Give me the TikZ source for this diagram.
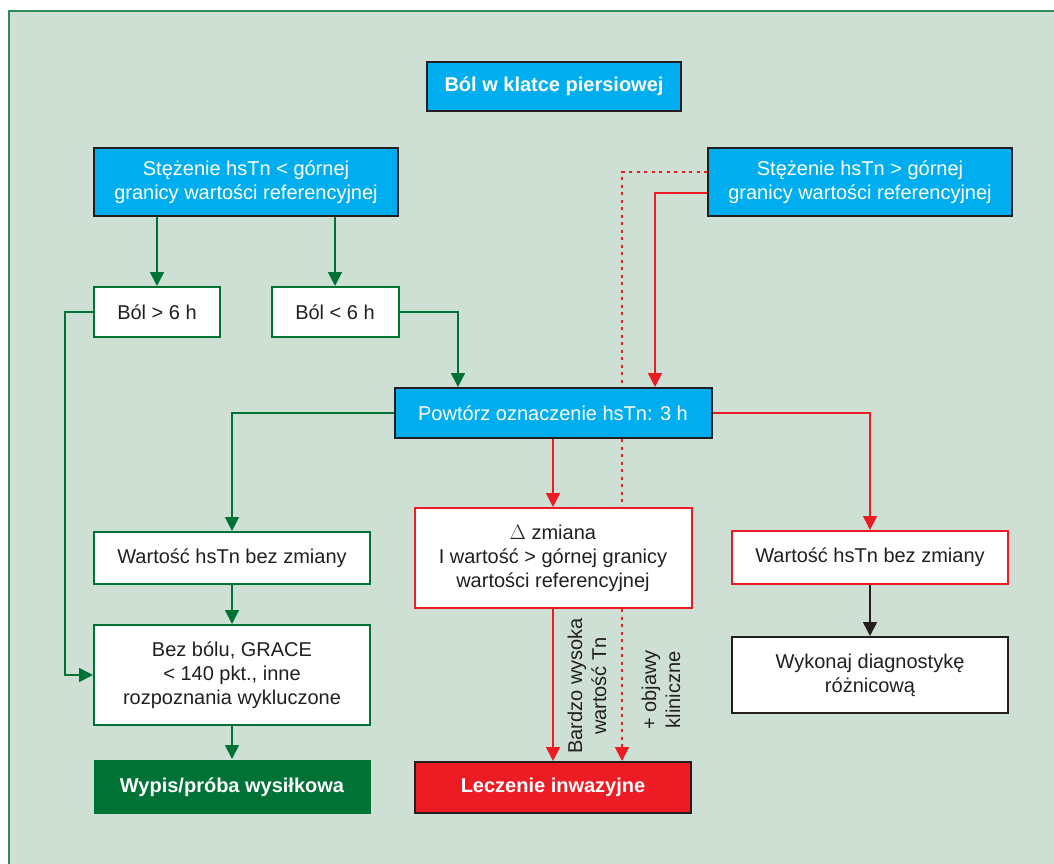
\documentclass[tikz,border=0pt]{standalone}
\usepackage{fontspec}
\setmainfont{Liberation Sans}
\usetikzlibrary{arrows.meta}
\definecolor{panelbg}{RGB}{206,223,212}
\definecolor{panelrule}{RGB}{46,139,87}
\definecolor{cyanbox}{RGB}{0,174,239}
\definecolor{leafgreen}{RGB}{0,114,54}
\definecolor{alarmred}{RGB}{237,28,36}
\definecolor{inkgrey}{RGB}{35,31,32}

\begin{document}
\begin{tikzpicture}[x=1pt, y=-1pt,
	font=\fontsize{20}{24}\selectfont,
	box/.style={draw, rectangle, align=center, inner sep=0pt, text=inkgrey, fill=white, line width=2pt},
	bluebox/.style={box, fill=cyanbox, draw=inkgrey, text=white},
	greenbox/.style={box, draw=leafgreen},
	redbox/.style={box, draw=alarmred},
	blackbox/.style={box, draw=inkgrey},
	endbox/.style={box, text=white, font=\fontsize{20}{24}\selectfont\bfseries},
	headed/.style={-{Triangle[width=14pt,length=14pt]}},
	gline/.style={headed, leafgreen, line width=1.6pt},
	rline/.style={headed, alarmred, line width=1.6pt},
	kline/.style={headed, inkgrey, line width=1.6pt},
	rdots/.style={alarmred, line width=2pt, dash pattern=on 3pt off 4.5pt},
]

\useasboundingbox (0,0) rectangle (1054,864);
\fill[white] (0,0) rectangle (1054,864);
\fill[panelbg] (9,11) rectangle (1054,864);
\draw[panelrule, line width=1.5pt] (9,864) -- (9,11) -- (1054,11);

\node[bluebox, font=\fontsize{20}{24}\selectfont\bfseries, minimum width=254pt, minimum height=49pt] (chest) at (554,86.5) {Ból w klatce piersiowej};

\node[bluebox, minimum width=304pt, minimum height=68pt] (hsLow) at (246,182) {Stężenie hsTn < górnej\\granicy wartości referencyjnej};
\node[bluebox, minimum width=304pt, minimum height=68pt] (hsHigh) at (860,182) {Stężenie hsTn > górnej\\granicy wartości referencyjnej};

\node[greenbox, minimum width=126pt, minimum height=50pt] (painLong) at (157,312) {Ból > 6 h};
\node[greenbox, minimum width=127pt, minimum height=50pt] (painShort) at (335,312) {Ból < 6 h};

\node[bluebox, minimum width=317pt, minimum height=50pt] (repeat) at (553,413) {Powtórz oznaczenie hsTn: 3 h};

\node[greenbox, minimum width=276pt, minimum height=52pt] (stableL) at (232,558) {Wartość hsTn bez zmiany};
\node[redbox, minimum width=277pt, minimum height=100pt] (delta) at (553,558) {$\Delta$ zmiana\\I wartość > górnej granicy\\wartości referencyjnej};
\node[redbox, minimum width=276pt, minimum height=53pt] (stableR) at (870,557.5) {Wartość hsTn bez zmiany};

\node[greenbox, minimum width=276pt, minimum height=100pt] (noPain) at (232,675) {Bez bólu, GRACE\\< 140 pkt., inne\\rozpoznania wykluczone};
\node[blackbox, minimum width=276pt, minimum height=76pt] (diffDiag) at (870,675) {Wykonaj diagnostykę\\różnicową};

\node[endbox, fill=leafgreen, draw=none, minimum width=277pt, minimum height=54pt] (discharge) at (232,787) {Wypis/próba wysiłkowa};
\node[endbox, fill=alarmred, draw=inkgrey, minimum width=276pt, minimum height=51pt] (invasive) at (553,787.5) {Leczenie inwazyjne};

\draw[gline] (hsLow.south -| painLong) -- (painLong);
\draw[gline] (hsLow.south -| painShort) -- (painShort);
\draw[gline] (painLong.west) -- ++(-28pt,0) |- (noPain.west);
\draw[gline] (painShort.east) -| ([xshift=-95pt]repeat.north);

\draw[rline] ([yshift=-11pt]hsHigh.west) -| ([xshift=102pt]repeat.north);
\draw[rdots] ([yshift=10pt]hsHigh.west) -| ([xshift=69pt]repeat.north);
\draw[rdots] ([xshift=69pt]repeat.south) -- ([xshift=69pt]delta.north);
\draw[rdots, headed] ([xshift=69pt]delta.south) -- ([xshift=69pt]invasive.north);

\draw[gline] (repeat.west) -| (stableL.north);
\draw[rline] (repeat) -- (delta);
\draw[rline] (repeat.east) -| (stableR.north);

\foreach \a/\b in {stableL/noPain, noPain/discharge} {
	\draw[gline] (\a) -- (\b);
}
\draw[rline] (delta) -- (invasive);
\draw[kline] (stableR) -- (diffDiag);

\node[rotate=90, align=center, text=inkgrey] (veryHigh) at (587,686) {Bardzo wysoka\\wartość Tn};
\node[rotate=90, align=center, text=inkgrey] (symptoms) at (661,690) {+ objawy\\kliniczne};

\end{tikzpicture}
\end{document}
